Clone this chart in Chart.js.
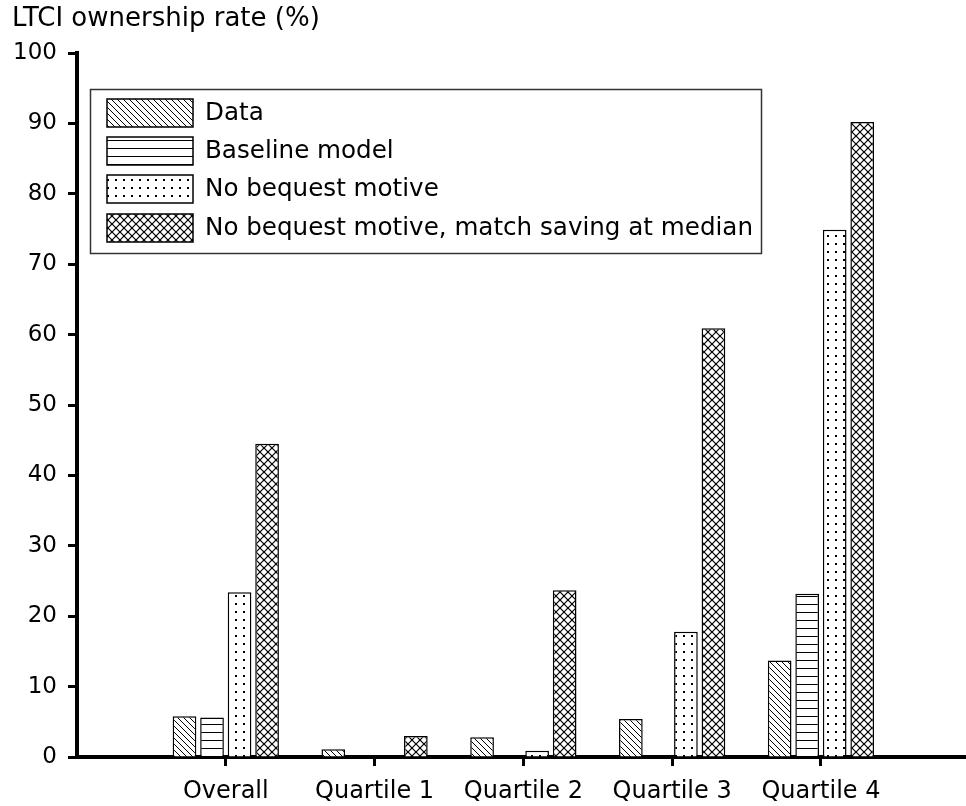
<!DOCTYPE html>
<html>
<head>
<meta charset="utf-8">
<title>LTCI ownership rate</title>
<script src="https://cdn.jsdelivr.net/npm/chart.js@4/dist/chart.umd.min.js"></script>
<style>
    html, body { margin: 0; padding: 0; background: #fff; }
    #graphCanvas { display: block; }
</style>
</head>
<body>
<canvas id="graphCanvas" width="966" height="806"></canvas>
<script>
// values (percent)
var categories = ['Overall', 'Quartile 1', 'Quartile 2', 'Quartile 3', 'Quartile 4'];
var seriesNames = ['Data', 'Baseline model', 'No bequest motive', 'No bequest motive, match saving at median'];
var dataVals = [5.8, 1.1, 2.8, 5.4, 13.7];
var baselineVals = [5.6, 0, 0, 0, 23.2];
var noBequestVals = [23.4, 0, 0.9, 17.8, 74.9];
var matchSavingVals = [44.5, 3.0, 23.7, 60.9, 90.2];
var yTickStep = 10;
var yMax = 100;

var FONT = 'DejaVu Sans';

// black & white fill patterns
function makePattern(kind) {
    var c = document.createElement('canvas');
    var g = c.getContext('2d');
    var n = 8;
    if (kind === 'diag') n = 6;
    c.width = n; c.height = n;
    g.fillStyle = '#fff';
    g.fillRect(0, 0, n, n);
    g.strokeStyle = '#000';
    g.fillStyle = '#000';
    if (kind === 'diag') {
        g.lineWidth = 1;
        for (var d = -n; d <= n; d += n) {
            g.beginPath(); g.moveTo(d - 1, -1); g.lineTo(d + n + 1, n + 1); g.stroke();
        }
    } else if (kind === 'hlines') {
        g.fillRect(0, 4, n, 1);
    } else if (kind === 'dots') {
        g.fillRect(3, 3, 2, 2);
    } else if (kind === 'cross') {
        g.lineWidth = 1.2;
        for (var d = -n; d <= n; d += n) {
            g.beginPath(); g.moveTo(d, 0); g.lineTo(d + n, n); g.stroke();
            g.beginPath(); g.moveTo(d + n, 0); g.lineTo(d, n); g.stroke();
        }
    }
    return g.createPattern(c, 'repeat');
}

var fills = [makePattern('diag'), makePattern('hlines'), makePattern('dots'), makePattern('cross')];
var series = [dataVals, baselineVals, noBequestVals, matchSavingVals];

var datasets = [];
for (var s = 0; s < series.length; s++) {
    var pts = [];
    for (var i = 0; i < categories.length; i++) {
        pts.push({ x: i + 1, y: series[s][i] });
    }
    datasets.push({
        label: seriesNames[s],
        data: pts,
        backgroundColor: fills[s],
        borderColor: '#000',
        borderWidth: 1.5,
        categoryPercentage: 0.74,
        barPercentage: 0.86
    });
}

// legend box drawn inside the plot area
var boxLegend = {
    id: 'boxLegend',
    afterDraw: function(chart) {
        var ctx = chart.ctx;
        ctx.save();
        ctx.fillStyle = '#fff';
        ctx.fillRect(90, 89, 671, 164);
        ctx.strokeStyle = '#333';
        ctx.lineWidth = 1.5;
        ctx.strokeRect(90.5, 89.5, 671, 164);
        ctx.font = '24.6px "' + FONT + '"';
        ctx.textBaseline = 'middle';
        var tops = [99, 137, 175, 214];
        chart.data.datasets.forEach(function(ds, k) {
            ctx.fillStyle = ds.backgroundColor;
            ctx.fillRect(107, tops[k], 86, 28);
            ctx.strokeStyle = '#000';
            ctx.lineWidth = 1.5;
            ctx.strokeRect(107, tops[k], 86, 28);
            ctx.fillStyle = '#000';
            ctx.fillText(ds.label, 205, tops[k] + 15);
        });
        ctx.restore();
    }
};

var graphTarget = document.getElementById('graphCanvas');

var barGraph = new Chart(graphTarget, {
    type: 'bar',
    data: { datasets: datasets },
    plugins: [boxLegend],
    options: {
        responsive: false,
        animation: false,
        events: [],
        layout: { padding: { left: 12, right: 0, top: 0, bottom: 0 } },
        plugins: {
            legend: { display: false },
            tooltip: { enabled: false },
            title: {
                display: true,
                text: 'LTCI ownership rate (%)',
                align: 'start',
                color: '#000',
                font: { family: FONT, size: 26, weight: 'normal' },
                padding: { top: 4, bottom: 17.8 }
            }
        },
        scales: {
            x: {
                type: 'linear',
                min: 0,
                max: 5.975,
                offset: false,
                grid: { offset: false, drawOnChartArea: false, drawTicks: true, tickLength: 9, tickWidth: 3, tickColor: '#000' },
                border: { display: true, width: 4, color: '#000' },
                afterBuildTicks: function(scale) {
                    scale.ticks = categories.map(function(c, i) { return { value: i + 1 }; });
                },
                afterFit: function(scale) { scale.height = 49; },
                ticks: {
                    autoSkip: false,
                    maxRotation: 0,
                    color: '#000',
                    padding: 11,
                    font: { family: FONT, size: 24 },
                    callback: function(v) { return categories[v - 1] || ''; }
                }
            },
            y: {
                min: 0,
                max: yMax,
                grid: { drawOnChartArea: false, drawTicks: true, tickLength: 9, tickWidth: 3, tickColor: '#000' },
                border: { display: true, width: 4, color: '#000' },
                afterFit: function(scale) { scale.width = 65; },
                ticks: {
                    stepSize: yTickStep,
                    color: '#000',
                    padding: 11,
                    font: { family: FONT, size: 23 }
                }
            }
        }
    }
});
</script>
</body>
</html>
